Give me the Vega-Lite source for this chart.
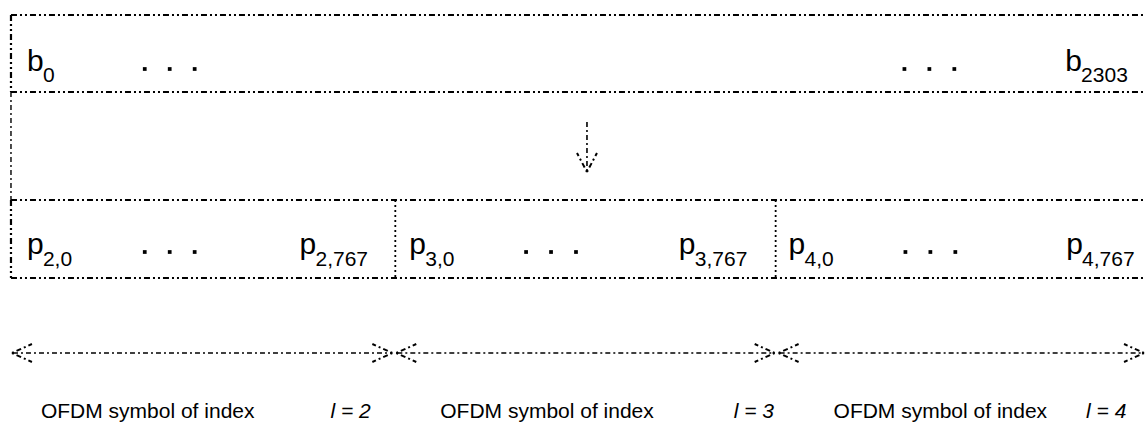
{
  "$schema": "https://vega.github.io/schema/vega-lite/v6.json",
  "width": 1147,
  "height": 423,
  "autosize": {"type": "fit", "contains": "padding"},
  "padding": 0,
  "background": "white",
  "config": {"view": {"stroke": null}},
  "datasets": {
    "boxes": [
      {"x": 11, "y": 15, "x2": 1147, "y2": 15},
      {"x": 11, "y": 92, "x2": 1147, "y2": 92},
      {"x": 11, "y": 15, "x2": 11, "y2": 92},
      {"x": 11, "y": 200, "x2": 11, "y2": 278},
      {"x": 11, "y": 200, "x2": 1147, "y2": 200},
      {"x": 11, "y": 278, "x2": 1147, "y2": 278}
    ],
    "connector": [
      {"x": 11, "y": 92, "x2": 11, "y2": 200}
    ],
    "dividers": [
      {"x": 396, "y": 200, "x2": 396, "y2": 278},
      {"x": 777, "y": 200, "x2": 777, "y2": 278}
    ],
    "shafts": [
      {"x": 588, "y": 122, "x2": 588, "y2": 171},
      {"x": 13, "y": 353, "x2": 392, "y2": 353},
      {"x": 398, "y": 353, "x2": 775, "y2": 353},
      {"x": 781, "y": 353, "x2": 1146, "y2": 353}
    ],
    "heads": [
      {"x": 588, "y": 172, "x2": 578, "y2": 153},
      {"x": 588, "y": 172, "x2": 598, "y2": 153},
      {"x": 12, "y": 353, "x2": 32, "y2": 344},
      {"x": 12, "y": 353, "x2": 32, "y2": 362},
      {"x": 393, "y": 353, "x2": 373, "y2": 344},
      {"x": 393, "y": 353, "x2": 373, "y2": 362},
      {"x": 397, "y": 353, "x2": 417, "y2": 344},
      {"x": 397, "y": 353, "x2": 417, "y2": 362},
      {"x": 776, "y": 353, "x2": 756, "y2": 344},
      {"x": 776, "y": 353, "x2": 756, "y2": 362},
      {"x": 780, "y": 353, "x2": 800, "y2": 344},
      {"x": 780, "y": 353, "x2": 800, "y2": 362},
      {"x": 1146, "y": 353, "x2": 1126, "y2": 344},
      {"x": 1146, "y": 353, "x2": 1126, "y2": 362}
    ],
    "dots": [
      {"x": 145, "y": 69}, {"x": 170, "y": 69}, {"x": 195, "y": 69},
      {"x": 906, "y": 69}, {"x": 931, "y": 69}, {"x": 956, "y": 69},
      {"x": 145, "y": 252}, {"x": 170, "y": 252}, {"x": 195, "y": 252},
      {"x": 527, "y": 252}, {"x": 552, "y": 252}, {"x": 577, "y": 252},
      {"x": 907, "y": 252}, {"x": 932, "y": 252}, {"x": 957, "y": 252}
    ],
    "mains": [
      {"x": 27, "y": 71, "t": "b"},
      {"x": 1067, "y": 71, "t": "b"},
      {"x": 27, "y": 254, "t": "p"},
      {"x": 300, "y": 254, "t": "p"},
      {"x": 410, "y": 254, "t": "p"},
      {"x": 680, "y": 254, "t": "p"},
      {"x": 790, "y": 254, "t": "p"},
      {"x": 1068, "y": 254, "t": "p"}
    ],
    "subs": [
      {"x": 43, "y": 82, "t": "0"},
      {"x": 1083, "y": 82, "t": "2303"},
      {"x": 43, "y": 266, "t": "2,0"},
      {"x": 316, "y": 266, "t": "2,767"},
      {"x": 426, "y": 266, "t": "3,0"},
      {"x": 696, "y": 266, "t": "3,767"},
      {"x": 806, "y": 266, "t": "4,0"},
      {"x": 1084, "y": 266, "t": "4,767"}
    ],
    "captions": [
      {"x": 41, "y": 418, "t": "OFDM symbol of index"},
      {"x": 441, "y": 418, "t": "OFDM symbol of index"},
      {"x": 835, "y": 418, "t": "OFDM symbol of index"}
    ],
    "indices": [
      {"x": 331, "y": 418, "t": "l = 2"},
      {"x": 735, "y": 418, "t": "l = 3"},
      {"x": 1088, "y": 418, "t": "l = 4"}
    ]
  },
  "encoding": {
    "x": {"field": "x", "type": "quantitative", "scale": {"domain": [0, 1147], "nice": false, "zero": false}, "axis": null},
    "y": {"field": "y", "type": "quantitative", "scale": {"domain": [423, 0], "nice": false, "zero": false}, "axis": null}
  },
  "layer": [
    {
      "data": {"name": "boxes"},
      "mark": {"type": "rule", "color": "black", "strokeWidth": 2.2, "strokeDash": [6, 3, 2, 3, 2, 3]},
      "encoding": {"x2": {"field": "x2"}, "y2": {"field": "y2"}}
    },
    {
      "data": {"name": "connector"},
      "mark": {"type": "rule", "color": "black", "strokeWidth": 1.4, "strokeDash": [5, 3, 2, 3]},
      "encoding": {"x2": {"field": "x2"}, "y2": {"field": "y2"}}
    },
    {
      "data": {"name": "dividers"},
      "mark": {"type": "rule", "color": "black", "strokeWidth": 1.8, "strokeDash": [2, 3]},
      "encoding": {"x2": {"field": "x2"}, "y2": {"field": "y2"}}
    },
    {
      "data": {"name": "shafts"},
      "mark": {"type": "rule", "color": "black", "strokeWidth": 1.6, "strokeDash": [5, 3, 2, 3]},
      "encoding": {"x2": {"field": "x2"}, "y2": {"field": "y2"}}
    },
    {
      "data": {"name": "heads"},
      "mark": {"type": "rule", "color": "black", "strokeWidth": 2, "strokeDash": [2, 3, 5, 3]},
      "encoding": {"x2": {"field": "x2"}, "y2": {"field": "y2"}}
    },
    {
      "data": {"name": "dots"},
      "mark": {"type": "point", "shape": "square", "filled": true, "color": "black", "size": 14, "opacity": 1}
    },
    {
      "data": {"name": "mains"},
      "mark": {"type": "text", "align": "left", "baseline": "alphabetic", "font": "Liberation Sans", "fontSize": 30, "color": "black"},
      "encoding": {"text": {"field": "t"}}
    },
    {
      "data": {"name": "subs"},
      "mark": {"type": "text", "align": "left", "baseline": "alphabetic", "font": "Liberation Sans", "fontSize": 21, "color": "black"},
      "encoding": {"text": {"field": "t"}}
    },
    {
      "data": {"name": "captions"},
      "mark": {"type": "text", "align": "left", "baseline": "alphabetic", "font": "Liberation Sans", "fontSize": 21, "color": "black"},
      "encoding": {"text": {"field": "t"}}
    },
    {
      "data": {"name": "indices"},
      "mark": {"type": "text", "align": "left", "baseline": "alphabetic", "font": "Liberation Sans", "fontSize": 21, "fontStyle": "italic", "color": "black"},
      "encoding": {"text": {"field": "t"}}
    }
  ]
}
